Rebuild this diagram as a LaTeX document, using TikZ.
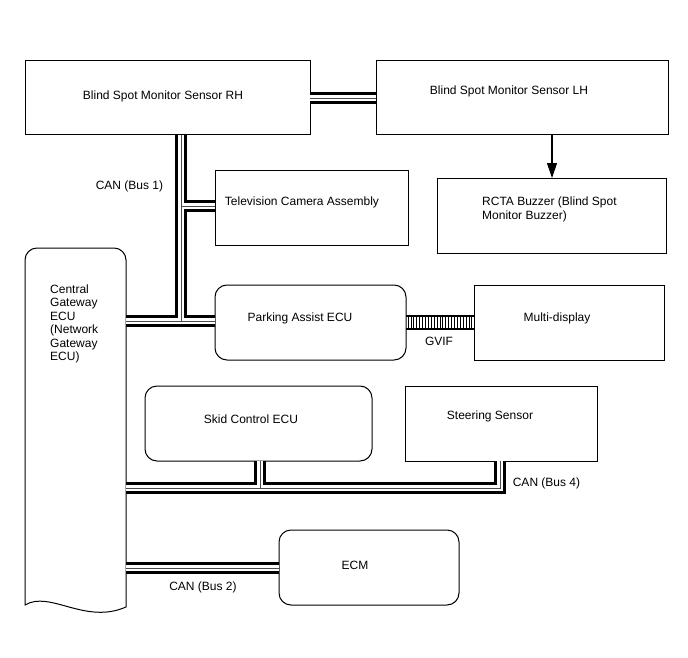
\documentclass[tikz,border=0pt]{standalone}
\usepackage{fontspec}
\setmainfont{Liberation Sans}
\usetikzlibrary{arrows.meta}
\begin{document}
\begin{tikzpicture}[x=1pt,y=-1pt,
 box/.style={draw, line width=1pt, inner sep=0pt, outer sep=0pt},
 rbox/.style={box, rounded corners=12pt},
 lbl/.style={font=\fontsize{12}{13.5}\selectfont, inner sep=0pt},
 bus/.style={draw=black, line width=12.5pt, line cap=butt, line join=miter,
   postaction={draw=white, line width=6pt},
   postaction={draw=black!70, line width=0.9pt}}
]
\useasboundingbox[fill=white] (0,0) rectangle (688,658);

% boxes
\node[box, minimum width=285pt, minimum height=74pt] (rh) at (167.5,98) {};
\node[box, minimum width=292pt, minimum height=74pt] (lh) at (522,98) {};
\node[box, minimum width=229pt, minimum height=75pt] (rcta) at (551.5,215.5) {};
\node[box, minimum width=193pt, minimum height=75pt] (tv) at (311.5,207.5) {};
\node[rbox, minimum width=191pt, minimum height=75pt] (pa) at (310.5,322.5) {};
\node[box, minimum width=190pt, minimum height=75pt] (md) at (569,322.5) {};
\node[rbox, minimum width=227pt, minimum height=75pt] (sk) at (258.5,423.5) {};
\node[box, minimum width=192pt, minimum height=75pt] (ss) at (501,423.5) {};
\node[rbox, minimum width=180pt, minimum height=75pt] (ecm) at (369,567.5) {};

% central gateway
\draw[line width=1pt] (25,605) -- (25,260) arc[start angle=180, end angle=270, radius=12]
  -- (114,248) arc[start angle=270, end angle=360, radius=12] -- (126,607)
  .. controls (85,625) and (50,590) .. (25,605) -- cycle;
\coordinate (gw) at (126,248);

% texts
\node[lbl] at (163,96) {Blind Spot Monitor Sensor RH};
\node[lbl] at (509,91) {Blind Spot Monitor Sensor LH};
\node[lbl, align=left, anchor=west] at (482,209.5) {RCTA Buzzer (Blind Spot\\Monitor Buzzer)};
\node[lbl] at (302,202) {Television Camera Assembly};
\node[lbl, align=left, anchor=west] at (50,324) {Central\\Gateway\\ECU\\(Network\\Gateway\\ECU)};
\node[lbl] at (300,318) {Parking Assist ECU};
\node[lbl] at (557,318) {Multi-display};
\node[lbl] at (251,419) {Skid Control ECU};
\node[lbl] at (490,416) {Steering Sensor};
\node[lbl] at (355,565) {ECM};
\node[lbl] at (439,341) {GVIF};
\node[lbl] at (129.5,186) {CAN (Bus 1)};
\node[lbl] at (546.5,483) {CAN (Bus 4)};
\node[lbl] at (203,587) {CAN (Bus 2)};

% arrow
\coordinate (ax) at (552,0);
\draw[line width=1.1pt, -{Triangle[width=10pt,length=15pt]}] (lh.south -| ax) -- (rcta.north -| ax);

% bus coordinates
\coordinate (j1) at (181,321);
\coordinate (jtv) at (181,206);
\coordinate (j4) at (500,488);
\coordinate (jsk) at (260,488);
\coordinate (j2) at (200,568);
\coordinate (jb) at (340,98);

% CAN buses
\path[bus] (rh.south -| j1) -- (j1)
  (gw |- j1) -- (pa.west |- j1)
  (jtv) -- (tv.west |- jtv);
\path[bus] (gw |- j4) -- (j4) -- (ss.south -| j4)
  (jsk) -- (sk.south -| jsk);
\path[bus] (gw |- j2) -- (ecm.west |- j2);
\path[bus] (rh.east |- jb) -- (lh.west |- jb);

% GVIF
\draw[line width=1.4pt] (pa.east |- 0,316) -- (md.west |- 0,316)
  (pa.east |- 0,329) -- (md.west |- 0,329);
\foreach \i in {0,...,22} {
  \draw[line width=0.8pt] (408+\i*2.9,316) -- (408+\i*2.9,329);
}
\end{tikzpicture}
\end{document}
